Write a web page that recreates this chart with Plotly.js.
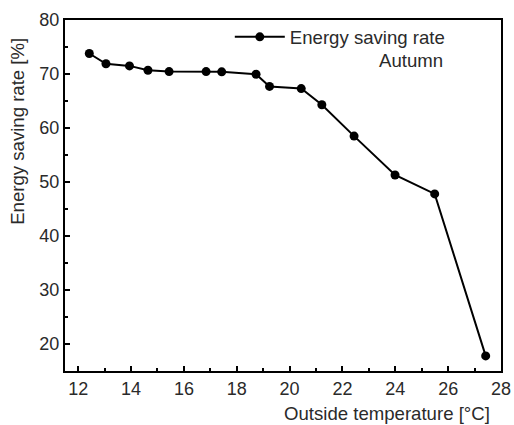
<!DOCTYPE html>
<html>
<head>
<meta charset="utf-8">
<script src="https://cdn.plot.ly/plotly-3.0.1.min.js"></script>
<style>html,body{margin:0;padding:0;background:#fff;}#chart{width:514px;height:425px;}</style>
</head>
<body>
<div id="chart"></div>
<script>
const temperature = [12.42, 13.05, 13.94, 14.64, 15.44, 16.84, 17.43, 18.73, 19.24, 20.44, 21.22, 22.44, 23.99, 25.49, 27.42];
const savingRate = [73.8, 71.9, 71.5, 70.7, 70.45, 70.45, 70.4, 69.95, 67.7, 67.3, 64.3, 58.5, 51.3, 47.8, 17.8];
const seriesName = 'Energy saving rate';
const seasonLabel = 'Autumn';
const xTitle = 'Outside temperature [°C]';
const yTitle = 'Energy saving rate [%]';

const font = 'Liberation Sans, Arial, sans-serif';
const txt = '#2a2a2a';

const trace = {
  x: temperature, y: savingRate, name: seriesName,
  type: 'scatter', mode: 'lines+markers',
  line: {color: '#000', width: 2},
  marker: {color: '#000', size: 9}
};

const layout = {
  width: 514, height: 425,
  margin: {l: 65, r: 13, t: 20, b: 54},
  paper_bgcolor: '#fff', plot_bgcolor: '#fff',
  font: {family: font, size: 18, color: txt},
  showlegend: true,
  legend: {x: 0.378, y: 1.005, xanchor: 'left', yanchor: 'top', bgcolor: 'rgba(0,0,0,0)',
           font: {family: font, size: 18.6, color: txt}, itemwidth: 50, tracegroupgap: 0},
  xaxis: {
    range: [11.5, 28], dtick: 2, tick0: 12,
    ticks: 'inside', ticklen: 5, tickwidth: 2, tickcolor: '#000',
    showline: true, linecolor: '#000', linewidth: 2, mirror: true,
    showgrid: false, zeroline: false,
    minor: {dtick: 1, tick0: 12, ticks: 'inside', ticklen: 3, tickwidth: 2, tickcolor: '#000'},
    tickfont: {family: font, size: 18, color: txt}
  },
  yaxis: {
    range: [15, 80], dtick: 10, tick0: 20,
    ticks: 'inside', ticklen: 5, tickwidth: 2, tickcolor: '#000',
    showline: true, linecolor: '#000', linewidth: 2, mirror: true,
    showgrid: false, zeroline: false,
    minor: {dtick: 5, tick0: 20, ticks: 'inside', ticklen: 3, tickwidth: 2, tickcolor: '#000'},
    tickfont: {family: font, size: 18, color: txt}
  },
  annotations: [
    {text: xTitle, xref: 'paper', yref: 'paper', x: 0.7385, y: -0.12, xanchor: 'center', yanchor: 'middle',
     showarrow: false, font: {family: font, size: 18.6, color: txt}},
    {text: yTitle, xref: 'paper', yref: 'paper', x: -0.108, y: 0.684, xanchor: 'center', yanchor: 'middle',
     textangle: -90, showarrow: false, font: {family: font, size: 18.6, color: txt}},
    {text: seasonLabel, xref: 'paper', yref: 'paper', x: 0.8716, y: 0.886, xanchor: 'right', yanchor: 'middle',
     showarrow: false, font: {family: font, size: 18.6, color: txt}}
  ]
};

Plotly.newPlot('chart', [trace], layout, {staticPlot: true, displayModeBar: false});
</script>
</body>
</html>
